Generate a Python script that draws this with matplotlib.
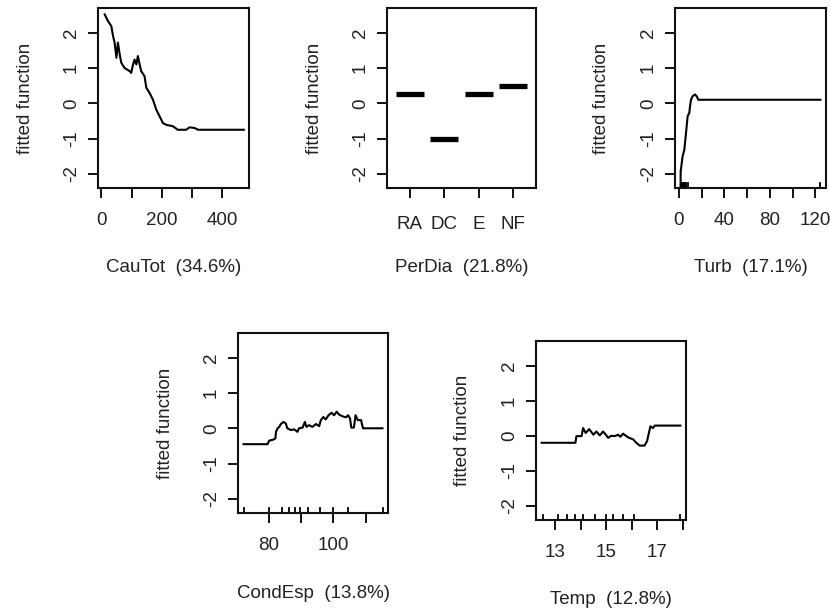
import matplotlib
matplotlib.use("Agg")
import matplotlib.pyplot as plt

plt.rcParams['font.family'] = ['Liberation Sans', 'DejaVu Sans']
plt.rcParams['axes.unicode_minus'] = False

# --- data ---
cautot_x = [11, 22, 33, 39, 44, 50, 55, 61, 66, 77, 94, 99, 105, 110, 116, 121, 127, 132,
            143, 149, 160, 171, 182, 193, 204, 215, 237, 253, 281, 292, 309, 320, 472]
cautot_y = [2.52, 2.33, 2.19, 1.9, 1.72, 1.29, 1.72, 1.38, 1.15, 1.0, 0.91, 0.86, 1.1, 1.24,
            1.1, 1.34, 1.1, 0.91, 0.77, 0.44, 0.29, 0.1, -0.18, -0.37, -0.56, -0.61, -0.65,
            -0.75, -0.75, -0.68, -0.7, -0.75, -0.75]

perdia_cats = ['RA', 'DC', 'E', 'NF']
perdia_y = [0.25, -1.0, 0.25, 0.5]

turb_x = [1.4, 1.5, 3.2, 4.7, 6.2, 7.6, 9.1, 9.7, 10.6, 12, 14, 15.6, 17, 124.5]
turb_y = [-2.38, -1.93, -1.5, -1.32, -0.84, -0.37, -0.27, -0.09, 0.1, 0.2, 0.25, 0.2, 0.1, 0.1]
turb_rug = [1.4, 2, 2.5, 3, 3.5, 4, 4.5, 5, 6, 8, 124.5]

cond_x = [72.3, 79.7, 80.2, 81.5, 82.1, 82.3, 82.8, 83.3, 83.8, 84.6, 85.3, 85.8, 86.9, 87.9,
          88.9, 89.4, 90.5, 91.2, 91.7, 92.5, 93.5, 94.6, 95.6, 96.1, 96.9, 97.6, 98.5, 99.4,
          100.2, 101, 101.7, 102.8, 103.8, 104.5, 105.1, 105.5, 106.3, 106.8, 107.5, 108.5,
          109.1, 115.1]
cond_y = [-0.45, -0.45, -0.35, -0.32, -0.29, -0.1, 0.0, 0.04, 0.12, 0.18, 0.14, 0.0, -0.05,
          -0.03, -0.1, 0.0, 0.02, 0.18, 0.04, 0.09, 0.04, 0.12, 0.06, 0.23, 0.32, 0.25, 0.37,
          0.44, 0.37, 0.47, 0.39, 0.34, 0.31, 0.37, 0.28, 0.02, 0.02, 0.37, 0.23, 0.23, 0.0, 0.0]
cond_rug = [72.5, 80.3, 84.2, 86.2, 88.1, 89.8, 92.3, 95.9, 99.8, 104.6, 115.2]

temp_x = [12.48, 13.8, 13.84, 14.04, 14.1, 14.2, 14.34, 14.5, 14.62, 14.75, 14.88, 14.99,
          15.08, 15.2, 15.34, 15.47, 15.56, 15.66, 15.79, 15.9, 16.05, 16.18, 16.31, 16.5,
          16.6, 16.67, 16.73, 16.83, 16.9, 17.9]
temp_y = [-0.2, -0.2, -0.01, -0.01, 0.22, 0.08, 0.19, 0.03, 0.12, 0.01, 0.12, 0.03, -0.06,
          0.0, -0.01, 0.03, -0.03, 0.06, -0.01, -0.06, -0.1, -0.2, -0.28, -0.28, -0.15, 0.08,
          0.27, 0.22, 0.29, 0.29]
temp_rug = [12.52, 13.13, 13.46, 13.79, 14.11, 14.56, 14.99, 15.25, 15.66, 16.08, 17.87]

W, H = 830, 611
FS = 13.5
TXT = '#222222'
fig = plt.figure(figsize=(W / 100, H / 100), dpi=100)


def panel(left, top, right, bottom, xlabel):
    ax = fig.add_axes([left / W, 1 - bottom / H, (right - left) / W, (bottom - top) / H])
    ax.set_ylim(-2.4, 2.7)
    ax.set_yticks([-2, -1, 0, 1, 2])
    for s in ax.spines.values():
        s.set_linewidth(1.5)
        s.set_color('#111111')
    ax.tick_params(direction='out', length=7, width=1.4, labelsize=FS, labelcolor=TXT,
                   color='#111111')
    ax.tick_params(axis='x', pad=10)
    ax.tick_params(axis='y', pad=6)
    for t in ax.get_yticklabels():
        t.set_rotation(90)
        t.set_va('center')
    ax.set_ylabel('fitted function', fontsize=FS, color=TXT)
    ax.yaxis.set_label_coords(-73 / (right - left), 0.5)
    ax.yaxis.label.set_va('center')
    ax.set_xlabel(xlabel, fontsize=FS, color=TXT)
    ax.xaxis.set_label_coords(0.5, -80 / (bottom - top))
    ax.xaxis.label.set_va('center')
    return ax


def rug(ax, vals):
    for v in vals:
        ax.axvline(v, ymin=0, ymax=0.03, color='black', lw=1.3)


# CauTot
ax1 = panel(98, 8, 249, 188, 'CauTot  (34.6%)')
ax1.plot(cautot_x, cautot_y, color='black', lw=1.5)
ax1.set_xlim(-11, 489)
ax1.set_xticks([0, 100, 200, 300, 400])
ax1.set_xticklabels(['0', '', '200', '', '400'])

# PerDia
ax2 = panel(387, 8, 536, 188, 'PerDia  (21.8%)')
pos = list(range(1, len(perdia_cats) + 1))
ax2.hlines(perdia_y, [p - 0.4 for p in pos], [p + 0.4 for p in pos], color='black', lw=3.8)
ax2.set_xlim(0.34, 4.66)
ax2.set_xticks(pos)
ax2.set_xticklabels(perdia_cats)
ax2.tick_params(axis='x', pad=13)

# Turb
ax3 = panel(675, 8, 826, 188, 'Turb  (17.1%)')
ax3.plot(turb_x, turb_y, color='black', lw=1.5)
rug(ax3, turb_rug)
ax3.set_xlim(-3.5, 129.4)
ax3.set_xticks([0, 20, 40, 60, 80, 100, 120])
ax3.set_xticklabels(['0', '', '40', '', '80', '', '120'])

# CondEsp
ax4 = panel(238, 333, 388, 513, 'CondEsp  (13.8%)')
ax4.plot(cond_x, cond_y, color='black', lw=1.5)
rug(ax4, cond_rug)
ax4.set_xlim(70.6, 116.8)
ax4.set_xticks([80, 90, 100, 110])
ax4.set_xticklabels(['80', '', '100', ''])

# Temp
ax5 = panel(536, 341, 686, 520, 'Temp  (12.8%)')
ax5.plot(temp_x, temp_y, color='black', lw=1.5)
rug(ax5, temp_rug)
ax5.set_xlim(12.26, 18.12)
ax5.set_xticks([13, 14, 15, 16, 17, 18])
ax5.set_xticklabels(['13', '', '15', '', '17', ''])

fig.savefig('out.png', dpi=100)
